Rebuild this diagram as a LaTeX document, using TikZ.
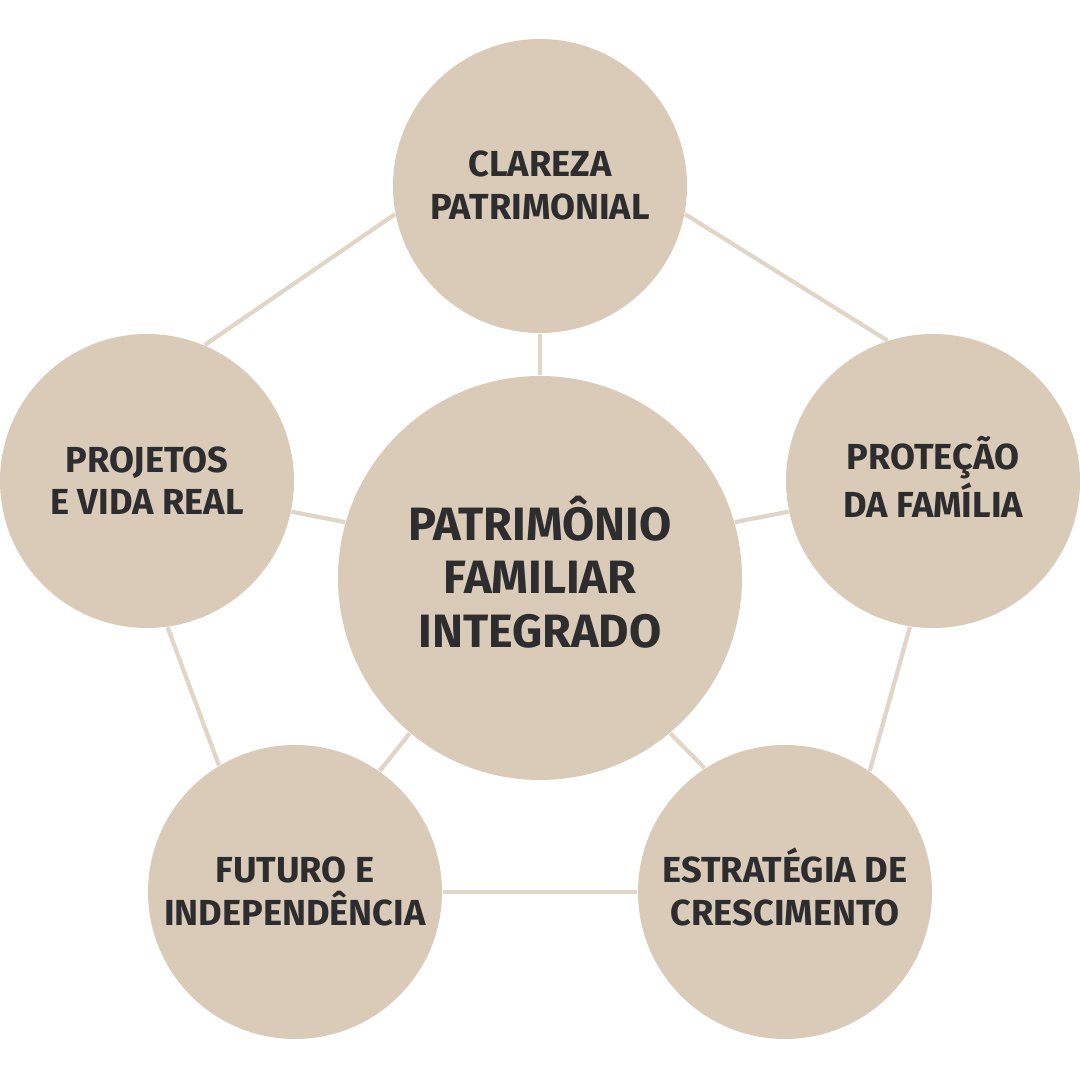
\documentclass[tikz,border=0pt]{standalone}
\usepackage{fontspec}
\setmainfont{Fira Sans}
\definecolor{sand}{HTML}{D9CBB7}
\definecolor{sandline}{HTML}{E0D5C6}
\definecolor{ink}{HTML}{2D2D2F}
% first line counted at cap height only, so accents do not push the text down
\newcommand{\capline}[1]{\raisebox{0pt}[\fontcharht\font`T]{#1}}

\begin{document}
\begin{tikzpicture}[
    bubble/.style={circle, fill=sand, minimum size=2.94cm, inner sep=0pt, align=center,
        text=ink, font=\fontsize{10.3}{12.2}\selectfont\bfseries},
    hub/.style={bubble, minimum size=4.04cm, font=\fontsize{13.3}{15.3}\selectfont\bfseries},
    link/.style={draw=sandline, line width=1.2pt}
]
    \useasboundingbox (0,0) rectangle (10.8,10.8);

    \node[hub] (centro) at (5.40,5.02) {\capline{PATRIMÔNIO}\\FAMILIAR\\INTEGRADO};
    \node[bubble] (clareza) at (5.40,8.94) {\capline{CLAREZA}\\PATRIMONIAL};
    \node[bubble] (protecao) at (9.33,5.99) {\capline{PROTEÇÃO}\\DA FAMÍLIA};
    \node[bubble] (projetos) at (1.47,5.99) {\capline{PROJETOS}\\E VIDA REAL};
    \node[bubble] (futuro) at (2.95,1.88) {\capline{FUTURO E}\\INDEPENDÊNCIA};
    \node[bubble] (estrategia) at (7.85,1.88) {\capline{ESTRATÉGIA DE}\\CRESCIMENTO};

    % outer ring
    \draw[link] (clareza.191) -- (projetos.67);
    \draw[link] (clareza.-11) -- (protecao.108);
    \draw[link] (projetos.-82) -- (futuro.121);
    \draw[link] (protecao.261) -- (estrategia.55);
    \draw[link] (futuro.east) -- (estrategia.west);

    % spokes
    \draw[link] (centro.north) -- (clareza.south);
    \draw[link] (centro.164) -- (projetos.-12);
    \draw[link] (centro.16) -- (protecao.192);
    \draw[link] (centro.-130) -- (futuro.55);
    \draw[link] (centro.-50) -- (estrategia.123);
\end{tikzpicture}
\end{document}
